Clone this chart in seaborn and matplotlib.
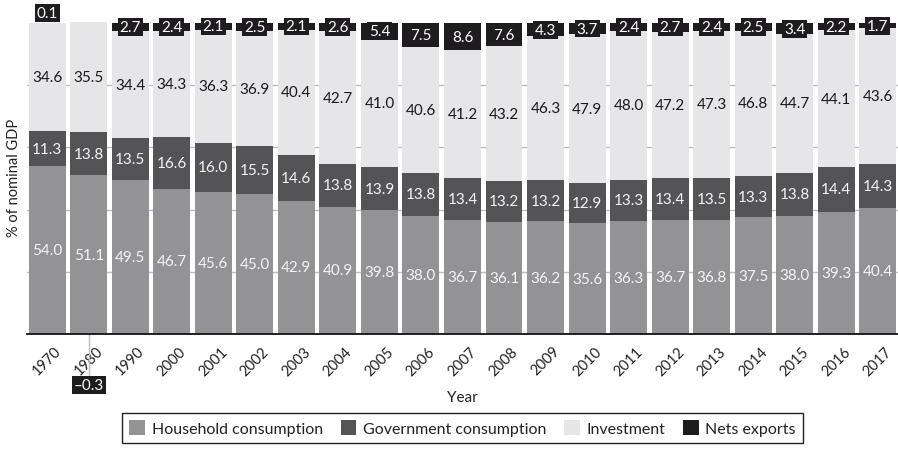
import matplotlib
matplotlib.use("Agg")
import matplotlib.pyplot as plt
from matplotlib.patches import Patch
import numpy as np
import pandas as pd
import seaborn as sns

years = ["1970", "1980", "1990", "2000", "2001", "2002", "2003", "2004", "2005", "2006",
         "2007", "2008", "2009", "2010", "2011", "2012", "2013", "2014", "2015", "2016", "2017"]
household = [54.0, 51.1, 49.5, 46.7, 45.6, 45.0, 42.9, 40.9, 39.8, 38.0, 36.7,
             36.1, 36.2, 35.6, 36.3, 36.7, 36.8, 37.5, 38.0, 39.3, 40.4]
government = [11.3, 13.8, 13.5, 16.6, 16.0, 15.5, 14.6, 13.8, 13.9, 13.8, 13.4,
              13.2, 13.2, 12.9, 13.3, 13.4, 13.5, 13.3, 13.8, 14.4, 14.3]
investment = [34.6, 35.5, 34.4, 34.3, 36.3, 36.9, 40.4, 42.7, 41.0, 40.6, 41.2,
              43.2, 46.3, 47.9, 48.0, 47.2, 47.3, 46.8, 44.7, 44.1, 43.6]
net_exports = [0.1, -0.3, 2.7, 2.4, 2.1, 2.5, 2.1, 2.6, 5.4, 7.5, 8.6,
               7.6, 4.3, 3.7, 2.4, 2.7, 2.4, 2.5, 3.4, 2.2, 1.7]

series_names = ["Household consumption", "Government consumption", "Investment", "Nets exports"]
colors = ["#939396", "#545457", "#e6e6e8", "#1e1c1e"]

sns.set_theme(style="white")
plt.rcParams["font.family"] = ["Lato", "DejaVu Sans"]

df = pd.DataFrame({"year": years, "hh": household, "gov": government,
                   "inv": investment, "net": net_exports})
hh = df["hh"].to_numpy()
gov = df["gov"].to_numpy()
inv = df["inv"].to_numpy()
net = df["net"].to_numpy()

# cumulative tops of each stacked layer
top_hh = hh
top_gov = hh + gov
top_inv = hh + gov + inv
top_net = top_inv + np.clip(net, 0, None)

fig = plt.figure(figsize=(8.98, 4.52), dpi=100)
ax = fig.add_axes([0.030, 0.2588, 0.970, 0.6947])

bar_w = 0.89
for tops, col in zip([top_net, top_inv, top_gov, top_hh], colors[::-1]):
    sns.barplot(x=df["year"], y=tops, color=col, saturation=1, width=bar_w,
                errorbar=None, ax=ax, linewidth=0, zorder=2)

# negative net exports drawn below the axis baseline
neg = np.where(net < 0, net, 0.0)
ax.bar(np.arange(len(years)), neg, width=bar_w, color=colors[3], zorder=2, linewidth=0)

ax.set_xlim(-0.49, len(years) - 0.51)
ax.set_ylim(0, 101)
ax.set_yticks([0, 20, 40, 60, 80])
ax.set_yticklabels([])
ax.yaxis.grid(True, color="#bdbdbd", linewidth=1.0, zorder=0)
ax.set_axisbelow(True)
for s in ["top", "right", "left"]:
    ax.spines[s].set_visible(False)
ax.spines["bottom"].set_color("#111111")
ax.spines["bottom"].set_linewidth(1.3)
ax.spines["bottom"].set_zorder(5)
ax.tick_params(axis="x", length=0, pad=7, labelsize=10.5, labelrotation=45, colors="#222222")
ax.tick_params(axis="y", length=0, pad=0)
ax.set_xlabel("Year", fontsize=11, color="#222222", labelpad=9)
ax.set_ylabel("% of nominal GDP", fontsize=10.5, color="#222222", labelpad=4)

fs = 11
for i in range(len(years)):
    ax.text(i, hh[i] / 2, f"{hh[i]:.1f}", ha="center", va="center", fontsize=fs,
            color="#f4f4f4", zorder=4)
    ax.text(i, hh[i] + gov[i] / 2, f"{gov[i]:.1f}", ha="center", va="center", fontsize=fs,
            color="#f4f4f4", zorder=4)
    ax.text(i, top_gov[i] + inv[i] / 2, f"{inv[i]:.1f}", ha="center", va="center", fontsize=fs,
            color="#1a1a1a", zorder=4)
    box = dict(boxstyle="square,pad=0.12", fc=colors[3], ec="none")
    if net[i] < 0:
        ax.plot([i, i], [0, -13.5], color="#bdbdbd", lw=1, clip_on=False, zorder=1)
        ax.text(i, -16.4, f"\u2013{abs(net[i]):.1f}", ha="center", va="center", fontsize=fs,
                color="white", bbox=box, clip_on=False, zorder=6)
    elif net[i] < 1:
        ax.text(i, top_inv[i] + 3.3, f"{net[i]:.1f}", ha="center", va="center", fontsize=fs,
                color="white", bbox=box, clip_on=False, zorder=6)
    else:
        ax.text(i, top_inv[i] + net[i] / 2, f"{net[i]:.1f}", ha="center", va="center",
                fontsize=fs, color="white", bbox=box, clip_on=False, zorder=6)

handles = [Patch(facecolor=c, edgecolor="none") for c in colors]
fig.legend(handles, series_names, loc="lower center", bbox_to_anchor=(0.515, 0.0),
           ncol=4, frameon=True, fancybox=False, edgecolor="#222222", framealpha=1,
           fontsize=11.5, handlelength=1.0, handleheight=1.0, handletextpad=0.4,
           columnspacing=1.1, borderpad=0.45, labelcolor="#222222")

fig.savefig("out.png", dpi=100)
